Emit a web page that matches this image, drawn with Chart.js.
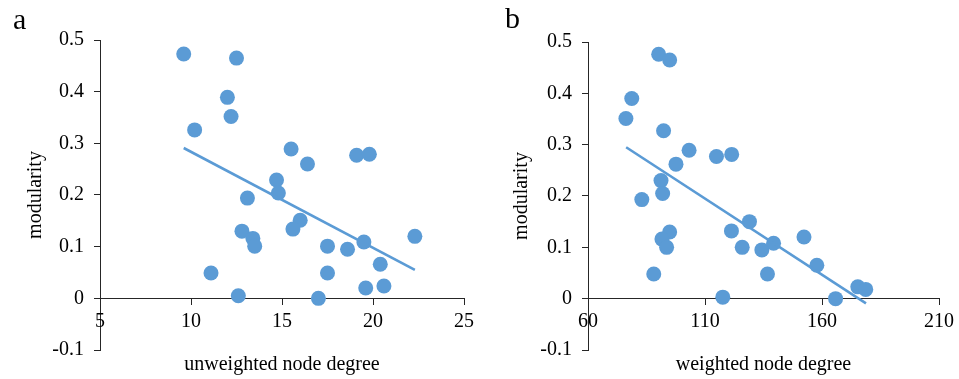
<!DOCTYPE html>
<html>
<head>
<meta charset="utf-8">
<script src="https://cdn.jsdelivr.net/npm/chart.js@4.4.1/dist/chart.umd.min.js"></script>
<style>
    html, body { margin: 0; padding: 0; background: #fff; }
    #wrap  { position: relative; width: 959px; height: 379px; }
    .panel { position: absolute; top: 0; height: 379px; }
    #pa    { left: 0;     width: 480px; }
    #pb    { left: 480px; width: 479px; }
</style>
</head>
<body>
<div id="wrap">
    <div class="panel" id="pa"><canvas id="chartA" width="480" height="379"></canvas></div>
    <div class="panel" id="pb"><canvas id="chartB" width="479" height="379"></canvas></div>
</div>
<script>
// ─── Data ────────────────────────────────────────────────────────
const UNWEIGHTED_DEGREE = [9.6, 12.5, 12.0, 12.2, 10.2, 15.5, 16.4, 19.1, 19.8, 14.7, 14.8, 13.1, 16.0, 15.6,
                           12.8, 13.4, 13.5, 17.5, 18.6, 19.5, 22.3, 20.4, 17.5, 11.1, 19.6, 20.6, 12.6, 17.0];
const MODULARITY_A      = [0.473, 0.465, 0.389, 0.352, 0.326, 0.289, 0.260, 0.277, 0.279, 0.229, 0.204, 0.194, 0.151, 0.134,
                           0.130, 0.116, 0.101, 0.101, 0.095, 0.109, 0.120, 0.066, 0.049, 0.049, 0.020, 0.024, 0.005, 0.0];

const WEIGHTED_DEGREE   = [90.2, 94.9, 78.7, 76.2, 92.3, 103.2, 114.9, 121.4, 97.6, 91.2, 91.9, 83.0, 129.0, 121.3,
                           94.9, 91.6, 93.6, 125.9, 134.3, 139.3, 152.3, 157.8, 136.7, 88.1, 175.3, 178.7, 117.6, 165.8];
const MODULARITY_B      = [0.476, 0.465, 0.390, 0.351, 0.327, 0.289, 0.277, 0.281, 0.262, 0.230, 0.205, 0.193, 0.150, 0.132,
                           0.130, 0.116, 0.100, 0.100, 0.095, 0.108, 0.120, 0.065, 0.048, 0.048, 0.023, 0.018, 0.003, 0.0];

// linear trend lines, end points
const TREND_A_X = [9.6, 22.3];
const TREND_A_Y = [0.291, 0.055];
const TREND_B_X = [76.3, 178.8];
const TREND_B_Y = [0.295, -0.009];

// tick labels
const Y_TICKS   = [-0.1, 0, 0.1, 0.2, 0.3, 0.4, 0.5];
const X_TICKS_A = [5, 10, 15, 20, 25];
const X_TICKS_B = [60, 110, 160, 210];

// ─── Style ───────────────────────────────────────────────────────
const BLUE  = '#5B9BD5';
const AXIS  = '#262626';
const TEXT  = '#000000';
const SERIF = '"Liberation Serif", "Times New Roman", serif';

Chart.defaults.font.family = SERIF;
Chart.defaults.font.size   = 20;
Chart.defaults.color       = TEXT;

const toPoints = (xs, ys) => xs.map((x, i) => ({ x, y: ys[i] }));
const fmt = v => String(Math.round(v * 10) / 10);

// panel letter (a / b) in the top left corner
const panelLetter = {
    id: 'panelLetter',
    afterDraw(chart, args, o) {
        const ctx = chart.ctx;
        ctx.save();
        ctx.font = '30px ' + SERIF;
        ctx.fillStyle = '#000';
        ctx.textBaseline = 'alphabetic';
        ctx.fillText(o.text, o.x, o.y);
        ctx.restore();
    }
};

function makePanel(id, p) {
    new Chart(document.getElementById(id), {
        type: 'scatter',
        data: {
            datasets: [
                {
                    data: toPoints(p.trendX, p.trendY),
                    showLine: true,
                    borderColor: BLUE,
                    borderWidth: 2.6,
                    pointRadius: 0
                },
                {
                    data: toPoints(p.xs, p.ys),
                    backgroundColor: BLUE,
                    borderWidth: 0,
                    pointRadius: 7.5
                }
            ]
        },
        plugins: [panelLetter],
        options: {
            responsive: false,
            animation: false,
            layout: { padding: { top: p.top, right: p.right, bottom: 0, left: 0 } },
            plugins: {
                legend: { display: false },
                tooltip: { enabled: false },
                panelLetter: p.letter
            },
            scales: {
                y: {
                    type: 'linear',
                    position: 'left',
                    min: -0.1,
                    max: 0.5,
                    afterBuildTicks: s => { s.ticks = Y_TICKS.map(v => ({ value: v })); },
                    afterFit: s => { s.width = p.left; },
                    ticks: { padding: 10, color: TEXT, callback: fmt },
                    grid: { drawOnChartArea: false, tickLength: 6, color: AXIS },
                    border: { color: AXIS, width: 1 },
                    title: {
                        display: true,
                        text: 'modularity',
                        color: TEXT,
                        padding: { top: p.yTitlePad, bottom: 0 }
                    }
                },
                x: {
                    type: 'linear',
                    position: { y: 0 },
                    min: p.xTicks[0],
                    max: p.xTicks[p.xTicks.length - 1],
                    afterBuildTicks: s => { s.ticks = p.xTicks.map(v => ({ value: v })); },
                    ticks: { padding: 5, color: TEXT, maxRotation: 0 },
                    grid: { drawOnChartArea: false, tickLength: 6, color: AXIS },
                    border: { color: AXIS, width: 1 }
                },
                x2: {
                    type: 'linear',
                    axis: 'x',
                    position: 'bottom',
                    afterFit: s => { s.height = 29; },
                    ticks: { display: false },
                    grid: { display: false },
                    border: { display: false },
                    title: {
                        display: true,
                        text: p.xTitle,
                        color: TEXT,
                        padding: { top: 0, bottom: 2 }
                    }
                }
            }
        }
    });
}

makePanel('chartA', {
    xs: UNWEIGHTED_DEGREE, ys: MODULARITY_A,
    trendX: TREND_A_X, trendY: TREND_A_Y,
    xTicks: X_TICKS_A,
    xTitle: 'unweighted node degree',
    left: 100, right: 16, top: 40, yTitlePad: 24,
    letter: { text: 'a', x: 13, y: 29 }
});

makePanel('chartB', {
    xs: WEIGHTED_DEGREE, ys: MODULARITY_B,
    trendX: TREND_B_X, trendY: TREND_B_Y,
    xTicks: X_TICKS_B,
    xTitle: 'weighted node degree',
    left: 108, right: 18, top: 42, yTitlePad: 30,
    letter: { text: 'b', x: 25, y: 28 }
});
</script>
</body>
</html>
